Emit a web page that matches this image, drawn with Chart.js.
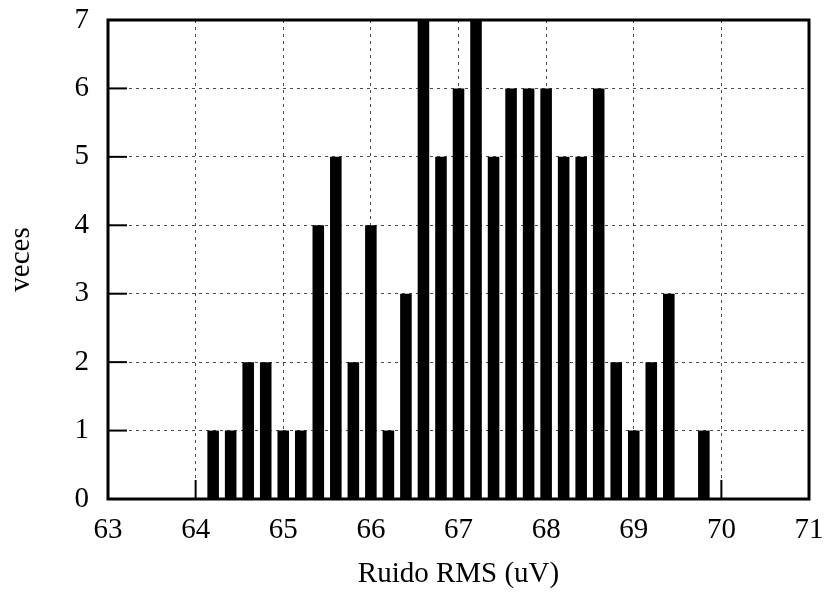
<!DOCTYPE html>
<html>
<head>
<meta charset="utf-8">
<script src="https://cdn.jsdelivr.net/npm/chart.js@4/dist/chart.umd.min.js"></script>
<style>
  body { margin: 0; background: #fff; }
  #wrap { width: 825px; height: 593px; }
</style>
</head>
<body>
<div id="wrap"><canvas id="hist"></canvas></div>
<script>
// histogram bins (centre of each bin, uV) and how many times each occurred
const binCenters = [64.2, 64.4, 64.6, 64.8, 65.0, 65.2, 65.4, 65.6, 65.8, 66.0,
                    66.2, 66.4, 66.6, 66.8, 67.0, 67.2, 67.4, 67.6, 67.8, 68.0,
                    68.2, 68.4, 68.6, 68.8, 69.0, 69.2, 69.4, 69.6, 69.8];
const counts = [1, 1, 2, 2, 1, 1, 4, 5, 2, 4,
                1, 3, 7, 5, 6, 7, 5, 6, 6, 6,
                5, 5, 6, 2, 1, 2, 3, 0, 1];

const xMin = 63, xMax = 71;
const yMin = 0, yMax = 7;

const serif = "'Liberation Serif', 'DejaVu Serif', serif";

// gnuplot style: inward ticks on bottom/left and a heavy frame
const frameTicks = {
  id: 'frameTicks',
  afterDatasetsDraw(chart) {
    const { ctx, chartArea: a, scales: { x, y } } = chart;
    ctx.save();
    ctx.strokeStyle = '#000';
    ctx.lineWidth = 2;
    x.ticks.forEach(t => {
      const px = x.getPixelForValue(t.value);
      ctx.beginPath();
      ctx.moveTo(px, a.bottom);
      ctx.lineTo(px, a.bottom - 19);
      ctx.stroke();
    });
    y.ticks.forEach(t => {
      const py = y.getPixelForValue(t.value);
      ctx.beginPath();
      ctx.moveTo(a.left, py);
      ctx.lineTo(a.left + 19, py);
      ctx.stroke();
    });
    ctx.lineWidth = 3;
    ctx.strokeRect(a.left, a.top, a.right - a.left, a.bottom - a.top);
    ctx.restore();
  }
};

const ctx = document.getElementById('hist').getContext('2d');

new Chart(ctx, {
  type: 'bar',
  data: {
    datasets: [{
      data: binCenters.map((v, i) => ({ x: v, y: counts[i] })),
      backgroundColor: '#000',
      borderWidth: 0,
      barPercentage: 0.66,
      categoryPercentage: 1.0
    }]
  },
  options: {
    responsive: true,
    maintainAspectRatio: false,
    animation: false,
    layout: { padding: { top: 20, right: 16, left: 0, bottom: 0 } },
    plugins: {
      legend: { display: false },
      tooltip: { enabled: false }
    },
    scales: {
      x: {
        type: 'linear',
        min: xMin,
        max: xMax,
        offset: false,
        afterFit: s => { s.height = 94; s.paddingLeft = 0; s.paddingRight = 0; },
        ticks: {
          stepSize: 1,
          autoSkip: false,
          maxRotation: 0,
          color: '#000',
          padding: 14,
          font: { family: serif, size: 29 }
        },
        grid: {
          offset: false,
          drawTicks: false,
          color: 'rgba(0,0,0,0.7)',
          lineWidth: 1
        },
        border: { display: false, dash: [3, 4] },
        title: {
          display: true,
          text: 'Ruido RMS (uV)',
          color: '#000',
          padding: { top: 0, bottom: 1 },
          font: { family: serif, size: 29 }
        }
      },
      y: {
        min: yMin,
        max: yMax,
        afterFit: s => { s.width = 108; s.paddingTop = 0; s.paddingBottom = 0; },
        ticks: {
          stepSize: 1,
          color: '#000',
          padding: 19,
          font: { family: serif, size: 29 }
        },
        grid: {
          drawTicks: false,
          color: 'rgba(0,0,0,0.7)',
          lineWidth: 1
        },
        border: { display: false, dash: [3, 4] },
        title: {
          display: true,
          text: 'veces',
          color: '#000',
          padding: { top: 4, bottom: 0 },
          font: { family: serif, size: 29 }
        }
      }
    }
  },
  plugins: [frameTicks]
});
</script>
</body>
</html>
